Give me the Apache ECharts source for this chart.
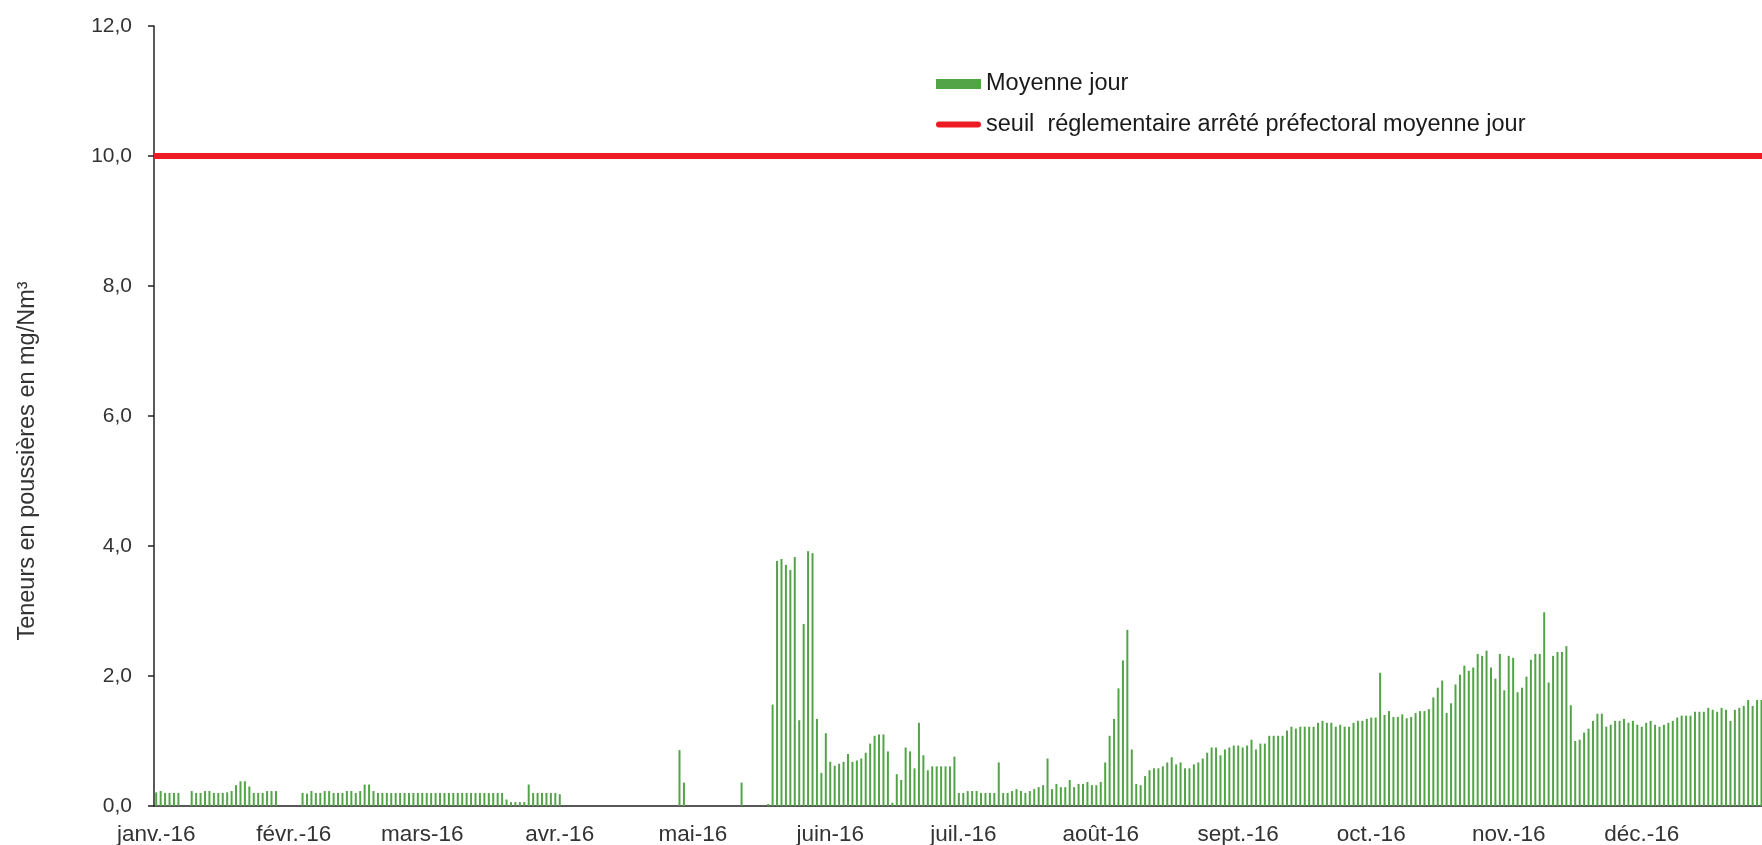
<!DOCTYPE html>
<html>
<head>
<meta charset="utf-8">
<title>Teneurs en poussières 2016</title>
<script src="https://cdn.jsdelivr.net/npm/echarts@6/dist/echarts.min.js"></script>
<style>
    html, body { margin: 0; padding: 0; background: #fff; }
    #chart { width: 1762px; height: 845px; }
</style>
</head>
<body>
<div id="chart"></div>
<script>
    // libellés des mois (axe x)
    var monthLabels = ['janv.-16', 'févr.-16', 'mars-16', 'avr.-16', 'mai-16', 'juin-16',
        'juil.-16', 'août-16', 'sept.-16', 'oct.-16', 'nov.-16', 'déc.-16'];
    var monthDays = [31, 29, 31, 30, 31, 30, 31, 31, 30, 31, 30, 31];

    // moyennes journalières en mg/Nm3 (null = pas de mesure)
    var valJanv = [0.21, 0.23, 0.2, 0.2, 0.2, 0.2, null, null, 0.23, 0.2, 0.2, 0.23, 0.23, 0.2, 0.2, 0.2,
        0.21, 0.23, 0.32, 0.38, 0.38, 0.3, 0.2, 0.2, 0.2, 0.23, 0.23, 0.23, null, null, null];
    var valFevr = [null, null, 0.2, 0.19, 0.23, 0.2, 0.2, 0.23, 0.23, 0.2, 0.2, 0.2, 0.23, 0.23, 0.2,
        0.23, 0.33, 0.33, 0.23, 0.2, 0.2, 0.2, 0.2, 0.2, 0.2, 0.2, 0.2, 0.2, 0.2];
    var valMars = [0.2, 0.2, 0.2, 0.2, 0.2, 0.2, 0.2, 0.2, 0.2, 0.2, 0.2, 0.2, 0.2, 0.2, 0.2, 0.2,
        0.2, 0.2, 0.2, 0.1, 0.06, 0.06, 0.06, 0.06, 0.33, 0.2, 0.2, 0.2, 0.2, 0.2, 0.2];
    var valAvr = [0.18, null, null, null, null, null, null, null, null, null, null, null, null, null, null,
        null, null, null, null, null, null, null, null, null, null, null, null, 0.86, 0.36, null];
    var valMai = [null, null, null, null, null, null, null, null, null, null, null, 0.36, null, null, null,
        null, null, 0.03, 1.56, 3.77, 3.8, 3.71, 3.63, 3.83, 1.32, 2.8, 3.92, 3.89, 1.34, 0.51, 1.12];
    var valJuin = [0.68, 0.62, 0.65, 0.68, 0.8, 0.68, 0.7, 0.73, 0.82, 0.96, 1.08, 1.1, 1.1, 0.84, 0.05,
        0.49, 0.4, 0.9, 0.84, 0.58, 1.28, 0.78, 0.55, 0.61, 0.61, 0.61, 0.61, 0.61, 0.76, 0.2];
    var valJuil = [0.2, 0.23, 0.23, 0.23, 0.2, 0.2, 0.2, 0.2, 0.67, 0.2, 0.2, 0.23, 0.26, 0.23, 0.2,
        0.23, 0.26, 0.29, 0.32, 0.73, 0.26, 0.34, 0.29, 0.29, 0.4, 0.29, 0.34, 0.34, 0.37, 0.32, 0.32];
    var valAout = [0.37, 0.67, 1.08, 1.34, 1.81, 2.24, 2.71, 0.87, 0.34, 0.32, 0.46, 0.55, 0.58, 0.58, 0.61,
        0.67, 0.75, 0.64, 0.67, 0.58, 0.58, 0.64, 0.67, 0.73, 0.82, 0.9, 0.9, 0.78, 0.87, 0.9, 0.93];
    var valSept = [0.93, 0.9, 0.93, 1.02, 0.87, 0.96, 0.96, 1.08, 1.08, 1.08, 1.08, 1.16, 1.22, 1.19, 1.22,
        1.22, 1.22, 1.22, 1.28, 1.31, 1.28, 1.28, 1.22, 1.25, 1.22, 1.22, 1.28, 1.31, 1.31, 1.34];
    var valOct = [1.36, 1.36, 2.05, 1.4, 1.46, 1.37, 1.37, 1.41, 1.35, 1.37, 1.43, 1.46, 1.46, 1.49, 1.67,
        1.82, 1.93, 1.43, 1.58, 1.87, 2.02, 2.16, 2.08, 2.13, 2.34, 2.31, 2.39, 2.13, 1.96, 2.34, 1.78];
    var valNov = [2.31, 2.28, 1.75, 1.82, 1.99, 2.25, 2.34, 2.34, 2.98, 1.9, 2.31, 2.37, 2.37, 2.46, 1.55,
        1.0, 1.02, 1.13, 1.19, 1.31, 1.42, 1.42, 1.22, 1.25, 1.31, 1.31, 1.34, 1.28, 1.31, 1.25];
    var valDec = [1.22, 1.28, 1.31, 1.25, 1.22, 1.25, 1.28, 1.31, 1.36, 1.39, 1.39, 1.39, 1.45, 1.45, 1.45,
        1.51, 1.48, 1.45, 1.51, 1.48, 1.31, 1.48, 1.51, 1.54, 1.63, 1.54, 1.63, 1.63, 1.62, 1.6, 1.6];

    var seuil = 10;

    var nomMoyenne = 'Moyenne jour';
    var nomSeuil = 'seuil  réglementaire arrêté préfectoral moyenne jour';

    var days = [];
    for (var m = 0; m < 12; m++) {
        for (var d = 1; d <= monthDays[m]; d++) {
            days.push('2016-' + (m < 9 ? '0' : '') + (m + 1) + '-' + (d < 10 ? '0' : '') + d);
        }
    }
    var moyenne = [].concat(valJanv, valFevr, valMars, valAvr, valMai, valJuin,
        valJuil, valAout, valSept, valOct, valNov, valDec);

    function isMonthStart(index) {
        return days[index].slice(8) === '01';
    }

    var font = '"Liberation Sans", Arial, sans-serif';
    var rouge = '#ed1c24';
    var vert = '#52a447';

    var chart = echarts.init(document.getElementById('chart'));
    var option = {
        animation: false,
        backgroundColor: '#fff',
        grid: {
            left: 154,
            top: 26,
            bottom: 39,
            right: -15,
            outerBoundsMode: 'none'
        },
        legend: {
            orient: 'vertical',
            left: 936,
            top: 72,
            padding: 0,
            itemWidth: 45,
            itemHeight: 10,
            itemGap: 16.5,
            textStyle: { fontFamily: font, fontSize: 23.5, color: '#1a1a1a' },
            data: [
                { name: nomMoyenne, icon: 'rect' },
                // trait épais à bouts arrondis (les M servent à garder la hauteur 10)
                { name: nomSeuil, icon: 'path://M0,0M0,10M3,2L42,2A3,3,0,0,1,42,8L3,8A3,3,0,0,1,3,2Z',
                  itemStyle: { color: rouge } }
            ]
        },
        xAxis: {
            type: 'category',
            data: days,
            boundaryGap: true,
            axisLine: { lineStyle: { color: '#222', width: 1.5 } },
            axisTick: {
                interval: isMonthStart,
                length: 6,
                lineStyle: { color: '#222', width: 1.5 }
            },
            axisLabel: {
                interval: isMonthStart,
                margin: 17,
                fontFamily: font,
                fontSize: 22.5,
                color: '#333',
                formatter: function(value) {
                    return monthLabels[parseInt(value.slice(5, 7), 10) - 1];
                }
            },
            splitLine: { show: false }
        },
        yAxis: {
            type: 'value',
            min: 0,
            max: 12,
            interval: 2,
            axisLine: { show: true, lineStyle: { color: '#222', width: 1.5 } },
            axisTick: { show: true, length: 6, lineStyle: { color: '#222', width: 1.5 } },
            axisLabel: {
                margin: 22,
                fontFamily: font,
                fontSize: 21,
                color: '#333',
                formatter: function(v) {
                    return v.toFixed(1).replace('.', ',');
                }
            },
            splitLine: { show: false }
        },
        graphic: [{
            type: 'text',
            x: 27.5,
            y: 461,
            rotation: Math.PI / 2,
            style: {
                text: 'Teneurs en poussières en mg/Nm³',
                fontFamily: font,
                fontSize: 23.5,
                fill: '#333',
                textAlign: 'center',
                textVerticalAlign: 'middle'
            }
        }],
        series: [{
            name: nomMoyenne,
            type: 'bar',
            data: moyenne,
            barWidth: 2,
            itemStyle: { color: vert }
        }, {
            name: nomSeuil,
            type: 'line',
            data: [],
            symbol: 'none',
            color: rouge,
            lineStyle: { color: rouge, width: 6 },
            markLine: {
                silent: true,
                symbol: ['none', 'none'],
                label: { show: false },
                lineStyle: { color: rouge, width: 6, type: 'solid' },
                data: [{ yAxis: seuil }]
            }
        }]
    };
    chart.setOption(option);
</script>
</body>
</html>
